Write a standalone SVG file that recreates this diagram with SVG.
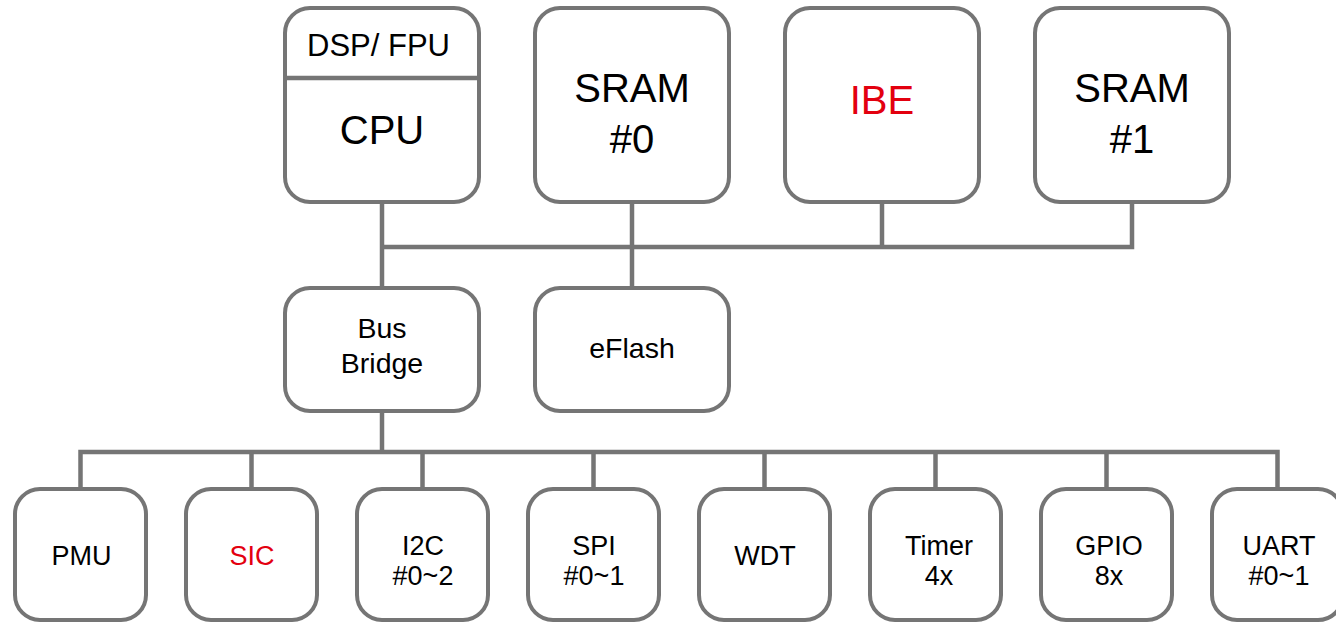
<svg xmlns="http://www.w3.org/2000/svg" width="1336" height="623" viewBox="0 0 1336 623">
  <style>
    .box { fill: #ffffff; stroke: #757575; stroke-width: 4; }
    .wire { fill: none; stroke: #757575; stroke-width: 4.5; stroke-linejoin: miter; }
    text { font-family: "Liberation Sans", Arial, sans-serif; text-anchor: middle; fill: #000000; }
    .big { font-size: 40px; }
    .mid { font-size: 28.5px; }
    .small { font-size: 27px; }
    .red { fill: #e3000f; }
  </style>

  <rect width="1336" height="623" fill="#ffffff"/>

  <!-- bus wiring -->
  <g id="connectors">
    <path class="wire" d="M382 204 V288"/>
    <path class="wire" d="M382 247 H1132 V204"/>
    <path class="wire" d="M632 204 V288"/>
    <path class="wire" d="M882 204 V247"/>
    <path class="wire" d="M382 412 V452"/>
    <path class="wire" d="M80.5 489 V452 H1277.5 V489"/>
    <path class="wire" d="M251.5 452 V489"/>
    <path class="wire" d="M422.5 452 V489"/>
    <path class="wire" d="M593.5 452 V489"/>
    <path class="wire" d="M764.5 452 V489"/>
    <path class="wire" d="M935.5 452 V489"/>
    <path class="wire" d="M1106.5 452 V489"/>
  </g>

  <!-- core row -->
  <g id="cpu">
    <rect class="box" x="285" y="8" width="194" height="194" rx="25"/>
    <line x1="285" y1="78" x2="479" y2="78" stroke="#757575" stroke-width="4.5"/>
    <text x="378.5" y="56" font-size="31px" xml:space="preserve">DSP/ FPU</text>
    <text class="big" x="382" y="144">CPU</text>
  </g>
  <g id="sram0">
    <rect class="box" x="535" y="8" width="194" height="194" rx="25"/>
    <text class="big" x="632" y="102">SRAM</text>
    <text class="big" x="632" y="153">#0</text>
  </g>
  <g id="ibe">
    <rect class="box" x="785" y="8" width="194" height="194" rx="25"/>
    <text class="big red" x="882" y="114">IBE</text>
  </g>
  <g id="sram1">
    <rect class="box" x="1035" y="8" width="194" height="194" rx="25"/>
    <text class="big" x="1132" y="102">SRAM</text>
    <text class="big" x="1132" y="153">#1</text>
  </g>

  <!-- middle row -->
  <g id="bus-bridge">
    <rect class="box" x="285" y="288" width="194" height="123" rx="25"/>
    <text class="mid" x="382" y="338">Bus</text>
    <text class="mid" x="382" y="373">Bridge</text>
  </g>
  <g id="eflash">
    <rect class="box" x="535" y="288" width="194" height="123" rx="25"/>
    <text class="mid" x="632" y="358">eFlash</text>
  </g>

  <!-- peripheral row -->
  <g id="pmu">
    <rect class="box" x="15" y="489" width="131" height="131" rx="25"/>
    <text class="small" x="81.5" y="565">PMU</text>
  </g>
  <g id="sic">
    <rect class="box" x="186" y="489" width="131" height="131" rx="25"/>
    <text class="small red" x="252" y="565">SIC</text>
  </g>
  <g id="i2c">
    <rect class="box" x="357" y="489" width="131" height="131" rx="25"/>
    <text class="small" x="423" y="555">I2C</text>
    <text class="small" x="423" y="585">#0~2</text>
  </g>
  <g id="spi">
    <rect class="box" x="528" y="489" width="131" height="131" rx="25"/>
    <text class="small" x="594" y="555">SPI</text>
    <text class="small" x="594" y="585">#0~1</text>
  </g>
  <g id="wdt">
    <rect class="box" x="699" y="489" width="131" height="131" rx="25"/>
    <text class="small" x="765" y="565">WDT</text>
  </g>
  <g id="timer">
    <rect class="box" x="870" y="489" width="131" height="131" rx="25"/>
    <text class="small" x="939" y="555">Timer</text>
    <text class="small" x="939" y="585">4x</text>
  </g>
  <g id="gpio">
    <rect class="box" x="1041" y="489" width="131" height="131" rx="25"/>
    <text class="small" x="1109" y="555">GPIO</text>
    <text class="small" x="1109" y="585">8x</text>
  </g>
  <g id="uart">
    <rect class="box" x="1212" y="489" width="131" height="131" rx="25"/>
    <text class="small" x="1279" y="555">UART</text>
    <text class="small" x="1279" y="585">#0~1</text>
  </g>
</svg>
